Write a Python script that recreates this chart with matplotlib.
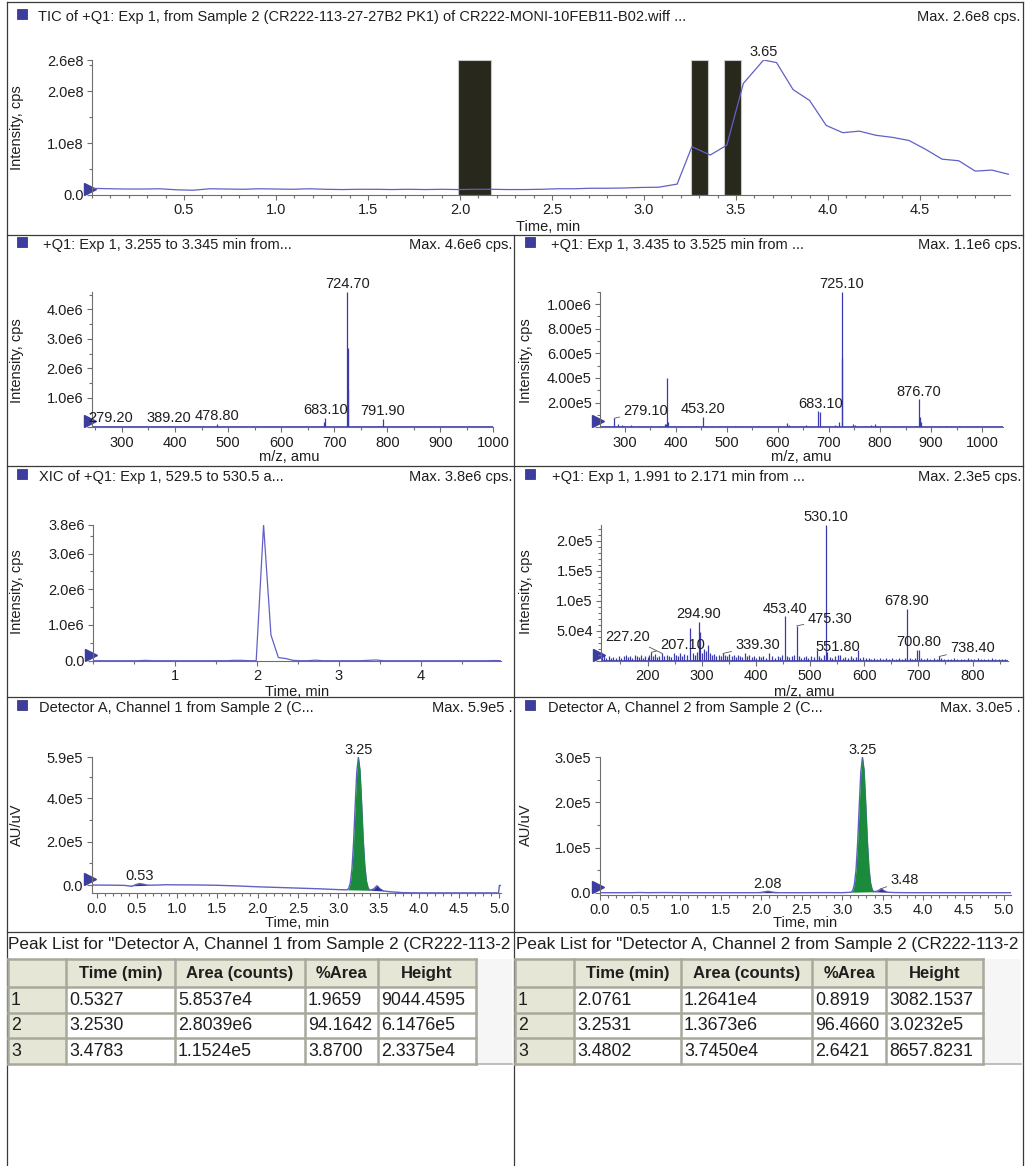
import numpy as np
import matplotlib
matplotlib.use("Agg")
import matplotlib.pyplot as plt
from matplotlib.patches import Rectangle
from matplotlib.ticker import FixedLocator, MultipleLocator, FuncFormatter

plt.rcParams['font.family'] = ['Liberation Sans', 'DejaVu Sans']
plt.rcParams['font.size'] = 10.5

# ---------------- data ----------------
# scan times shared by the TIC and the XIC (min)
scan_time = [0.00, 0.10, 0.19, 0.28, 0.37, 0.46, 0.55, 0.64, 0.73, 0.82, 0.91,
             1.00, 1.09, 1.18, 1.27, 1.36, 1.45, 1.54, 1.63, 1.72, 1.81, 1.90, 1.99,
             2.08, 2.17, 2.26, 2.35, 2.44, 2.53, 2.62, 2.71, 2.80, 2.89, 2.98, 3.08, 3.18,
             3.26, 3.36, 3.45, 3.54, 3.65, 3.72, 3.81, 3.90, 3.99, 4.08, 4.17, 4.26,
             4.35, 4.44, 4.53, 4.62, 4.71, 4.80, 4.89, 4.98]
# TIC intensity, 1e7 cps
tic_e7 = [1.28, 1.20, 1.15, 1.15, 1.20, 1.00, 0.92, 1.20, 1.15, 1.10, 1.20,
          1.15, 1.10, 1.20, 1.10, 1.05, 1.10, 1.10, 1.05, 1.10, 1.05, 1.10, 1.05,
          1.10, 1.10, 1.05, 1.05, 1.10, 1.20, 1.20, 1.30, 1.30, 1.35, 1.45, 1.50, 2.10,
          9.30, 7.70, 9.60, 21.5, 26.0, 25.5, 20.3, 18.2, 13.4, 12.0, 12.3, 11.5,
          11.1, 10.5, 8.8, 6.9, 6.6, 4.6, 4.8, 4.0]
tic_peak = 3.65
# XIC 529.5-530.5, 1e6 cps
xic_e6 = [0.0, 0.0, 0.0, 0.0, 0.0, 0.0, 0.0, 0.01, 0.0, 0.0, 0.0,
          0.0, 0.0, 0.0, 0.0, 0.0, 0.0, 0.0, 0.0, 0.01, 0.01, 0.0, 0.0,
          3.8, 0.72, 0.09, 0.06, 0.01, 0.0, 0.0, 0.015, 0.0, 0.0, 0.0, 0.0, 0.0,
          0.0, 0.01, 0.02, 0.0, 0.0, 0.0, 0.0, 0.0, 0.0, 0.0, 0.0, 0.0,
          0.0, 0.0, 0.0, 0.0, 0.0, 0.0, 0.005, 0.0]
# summed scan ranges (min) shown as dark bands on the TIC
scan_ranges = [(1.991, 2.171), (3.255, 3.345), (3.435, 3.525)]

# spectrum 3.255-3.345 min: labelled peaks and minor ions (m/z, 1e3 cps)
ms1_peaks = [(279.2, 50), (389.2, 40), (478.8, 110), (680.2, 190), (683.1, 330),
             (724.7, 4600), (725.5, 2680), (726.3, 1250), (789.5, 60), (791.9, 280)]
ms1_minor = [(262, 15), (290, 20), (298, 25), (318, 12), (345, 15), (372, 12), (410, 14),
             (436, 12), (452.8, 60), (466, 15), (499, 12), (520, 14), (548, 10), (575, 12),
             (610, 14), (640, 12), (663, 20), (676, 50), (700, 15), (712, 18), (736, 20),
             (747.5, 60), (760, 15), (783.5, 45), (806, 15), (835, 12), (860, 12), (890, 10),
             (920, 12), (950, 10), (975, 10)]
ms1_labels = [279.2, 389.2, 478.8, 683.1, 724.7, 791.9]

# spectrum 3.435-3.525 min
ms2_peaks = [(279.1, 73), (381.5, 30), (383.0, 400), (385.0, 40), (453.2, 86), (678.7, 130),
             (683.1, 127), (720.5, 46), (725.1, 1100), (725.9, 560), (876.7, 227),
             (878.2, 86), (880.0, 40)]
ms2_minor = [(263, 10), (270, 12), (287, 25), (294, 20), (300, 8), (312, 15), (325, 8),
             (340, 10), (352, 8), (368, 10), (378, 30), (397, 10), (410, 8), (425, 8),
             (440, 10), (460, 12), (470, 10), (486, 12), (500, 8), (515, 10), (530, 8),
             (548, 10), (560, 8), (575, 8), (590, 10), (603, 8), (618, 32), (622, 20),
             (632, 12), (650, 14), (655, 18), (665, 10), (700, 12), (712, 18), (748, 25),
             (752, 15), (770, 8), (783, 20), (791, 27), (795, 10), (810, 10), (830, 8),
             (850, 10), (870, 12), (900, 10), (915, 8), (930, 10), (940, 14), (955, 8),
             (970, 10), (990, 8), (1010, 6), (1030, 6)]
ms2_labels = [279.1, 453.2, 683.1, 725.1, 876.7]

# spectrum 1.991-2.171 min
ms3_peaks = [(207.1, 14), (227.2, 12), (278.9, 55), (294.9, 65), (296.5, 48), (311.0, 26),
             (339.3, 12), (425.0, 12), (453.4, 74), (475.3, 58), (512.5, 18), (530.1, 226),
             (532.0, 15), (551.8, 10), (588.3, 17), (678.9, 86), (697.5, 17), (700.8, 18),
             (738.4, 7)]
ms3_minor = [(116, 12), (120, 9), (124, 5), (129, 7), (133, 4), (137, 6), (142, 5), (147, 8),
             (151, 4), (156, 7), (160, 10), (164, 6), (168, 8), (172, 5), (176, 9), (180, 7),
             (184, 6), (188, 10), (192, 5), (196, 8), (200, 6), (203, 9), (210, 7), (214, 11),
             (218, 6), (222, 8), (231, 7), (235, 10), (240, 8), (244, 6), (248, 12), (252, 9),
             (256, 7), (260, 13), (264, 8), (268, 11), (272, 9), (283, 12), (287, 10), (291, 14),
             (300, 12), (304, 20), (308, 16), (315, 12), (319, 9), (323, 11), (327, 8), (331, 10),
             (335, 7), (343, 9), (347, 8), (351, 11), (355, 7), (359, 9), (363, 6), (367, 10),
             (371, 8), (375, 6), (380, 12), (384, 7), (388, 9), (392, 6), (396, 8), (400, 5),
             (405, 7), (409, 6), (413, 8), (418, 5), (430, 7), (435, 5), (440, 8), (445, 6),
             (449, 9), (458, 7), (462, 6), (467, 8), (471, 9), (480, 7), (484, 5), (488, 6),
             (493, 7), (497, 5), (502, 8), (507, 6), (517, 7), (521, 5), (526, 9), (536, 6),
             (541, 5), (546, 7), (556, 9), (560, 5), (565, 6), (570, 4), (575, 7), (580, 5),
             (584, 6), (593, 4), (598, 6), (603, 4), (608, 5), (613, 3), (618, 5), (624, 3),
             (629, 4), (635, 3), (641, 5), (646, 3), (652, 4), (658, 3), (664, 4), (670, 3),
             (675, 5), (684, 4), (689, 3), (694, 5), (705, 4), (710, 3), (716, 4), (722, 3),
             (728, 4), (734, 3), (742, 4), (748, 3), (754, 2), (760, 3), (766, 4), (772, 3),
             (779, 2), (785, 3), (791, 4), (797, 2), (803, 3), (810, 4), (816, 3), (822, 2),
             (829, 3), (835, 4), (841, 3), (848, 2), (854, 3), (860, 2)]
ms3_labels = [207.1, 227.2, 294.9, 339.3, 453.4, 475.3, 530.1, 551.8, 678.9, 700.8, 738.4]

# detector A traces (min, 1e3 AU/uV)
ch1_time = [-0.06, 0.00, 0.20, 0.35, 0.40, 0.44, 0.48, 0.53, 0.58, 0.62, 0.66, 0.75, 0.85,
            1.00, 1.25, 1.50, 1.75, 2.00, 2.25, 2.50, 2.75, 3.00,
            3.11, 3.13, 3.15, 3.17, 3.19, 3.21, 3.23, 3.25, 3.27, 3.29, 3.31, 3.33, 3.35, 3.37, 3.39,
            3.44, 3.48, 3.52, 3.56, 3.65, 3.80, 4.00, 4.50, 4.99, 5.00, 5.02]
ch1_e3 = [0.0, 0.0, -0.5, -1.5, -4.0, -5.0, 1.0, 7.0, 4.0, 0.5, -0.5, 0.0, 1.5,
          1.0, 0.5, -1.0, -4.0, -8.0, -11.0, -14.0, -17.0, -21.0,
          -22.0, -15.0, 11.0, 75.0, 196.0, 366.0, 524.0, 590.0, 530.0, 380.0, 210.0, 88.0, 18.0, -12.0, -24.0,
          -18.0, -3.0, -18.0, -27.0, -31.0, -35.0, -36.0, -36.0, -36.0, -2.0, -2.0]
ch1_windows = [(0.40, 0.66, 'blue'), (3.11, 3.39, 'green'), (3.39, 3.56, 'blue')]
ch1_labels = [0.53, 3.25]

ch2_time = [0.00, 0.40, 0.50, 0.60, 0.80, 1.00, 1.50, 1.95, 2.00, 2.04, 2.08, 2.12, 2.16,
            2.22, 2.50, 2.80, 3.00,
            3.11, 3.13, 3.15, 3.17, 3.19, 3.21, 3.23, 3.25, 3.27, 3.29, 3.31, 3.33, 3.35, 3.37, 3.39,
            3.44, 3.48, 3.52, 3.56, 3.65, 3.80, 5.08]
ch2_e3 = [0.0, 0.0, 0.4, 0.0, 0.3, 0.0, 0.0, 0.0, 0.6, 2.0, 3.1, 2.0, 0.6,
          0.0, 0.0, 0.2, 0.0,
          1.0, 5.0, 18.0, 49.0, 108.0, 190.0, 268.0, 300.0, 272.0, 200.0, 118.0, 56.0, 22.0, 7.0, 2.0,
          4.0, 8.7, 4.0, 1.0, 0.3, 0.0, 0.0]
ch2_windows = [(1.95, 2.22, 'blue'), (3.11, 3.39, 'green'), (3.39, 3.56, 'blue')]
ch2_labels = [2.08, 3.25, 3.48]

table_cols = ['', 'Time (min)', 'Area (counts)', '%Area', 'Height']
ch1_table = [['1', '0.5327', '5.8537e4', '1.9659', '9044.4595'],
             ['2', '3.2530', '2.8039e6', '94.1642', '6.1476e5'],
             ['3', '3.4783', '1.1524e5', '3.8700', '2.3375e4']]
ch2_table = [['1', '2.0761', '1.2641e4', '0.8919', '3082.1537'],
             ['2', '3.2531', '1.3673e6', '96.4660', '3.0232e5'],
             ['3', '3.4802', '3.7450e4', '2.6421', '8657.8231']]
ch1_title = 'Peak List for "Detector A, Channel 1 from Sample 2 (CR222-113-2'
ch2_title = 'Peak List for "Detector A, Channel 2 from Sample 2 (CR222-113-2'

# ---------------- styling ----------------
LINE = '#6060c6'
STICK = '#3a3aae'
MARK = '#3d3d9e'
FILLS = {'blue': '#30308e', 'green': '#1c8a3c'}
AXC = '#6e6e6e'
FRAME = '#3a3a3a'
TXT = '#1e1e1e'

W, H = 1026, 1166
fig = plt.figure(figsize=(W / 100, H / 100), dpi=100)
fig.patch.set_facecolor('white')
canvas = fig.add_axes([0, 0, 1, 1])
canvas.set_xlim(0, W)
canvas.set_ylim(H, 0)
canvas.axis('off')


def add_ax(x0, y0, x1, y1):
    return fig.add_axes([x0 / W, 1 - y1 / H, (x1 - x0) / W, (y1 - y0) / H])


def sci_fmt(dec, zero='0.0'):
    def f(v, pos):
        if abs(v) < 1e-12:
            return zero
        e = int(np.floor(np.log10(abs(v)) + 1e-9))
        return f"{v / 10 ** e:.{dec}f}e{e}"
    return FuncFormatter(f)


def style(ax, xlim, ylim, xmaj, xmin, ymaj, ymin, xfmt, yfmt):
    ax.set_xlim(*xlim)
    ax.set_ylim(*ylim)
    ax.set_facecolor('none')
    for s in ('top', 'right'):
        ax.spines[s].set_visible(False)
    for s in ('left', 'bottom'):
        ax.spines[s].set_color(AXC)
        ax.spines[s].set_linewidth(0.8)
    ax.xaxis.set_major_locator(FixedLocator(xmaj))
    ax.xaxis.set_minor_locator(MultipleLocator(xmin))
    ax.yaxis.set_major_locator(FixedLocator(ymaj))
    ax.yaxis.set_minor_locator(MultipleLocator(ymin))
    ax.xaxis.set_major_formatter(FuncFormatter(lambda v, p: xfmt.format(v)))
    ax.yaxis.set_major_formatter(yfmt)
    ax.tick_params(which='both', direction='out', color=AXC, width=0.8,
                   labelsize=10.5, labelcolor=TXT)
    ax.tick_params(which='major', length=3.5, pad=2.5)
    ax.tick_params(which='minor', length=2)


def start_marker(ax):
    # small triangle at the start of the trace, just left of the y axis
    x0 = ax.get_xlim()[0]
    dx, dy = ax.transData.transform((x0, 0))
    canvas.plot(dx - 2, H - dy - 6, marker='>', ms=8.5, color=MARK, mec=MARK, clip_on=False)


def header(x_sq, x_txt, x_right, y, text, maxtxt):
    canvas.add_patch(Rectangle((x_sq - 5, y - 8), 10, 10, facecolor=MARK, edgecolor='#28286e', lw=0.5))
    canvas.text(x_txt, y, text, ha='left', va='center', fontsize=10.5, color=TXT)
    canvas.text(x_right, y, maxtxt, ha='right', va='center', fontsize=10.5, color=TXT)


def axis_labels(xl, xpos, yl, ypos):
    canvas.text(xpos[0], xpos[1], xl, ha='center', va='center', fontsize=10.5, color=TXT)
    canvas.text(ypos[0], ypos[1], yl, ha='center', va='center', rotation=90, fontsize=10.5, color=TXT)


def peak_label(ax, text, x, y, offset=None):
    if offset is None:
        ax.annotate(text, (x, y), xytext=(0, 0.5), textcoords='offset points',
                    ha='center', va='bottom', fontsize=10.5, color=TXT)
    else:
        ax.annotate(text, (x, y), xytext=offset, textcoords='offset points',
                    ha='center', va='center', fontsize=10.5, color=TXT,
                    arrowprops=dict(arrowstyle='-', color='#555555', lw=0.6,
                                    shrinkA=1, shrinkB=0))


def spectrum(ax, peaks, minor, labels, leaders, scale=1e3):
    mz = [p[0] for p in peaks] + [p[0] for p in minor]
    it = [p[1] * scale for p in peaks] + [p[1] * scale for p in minor]
    ax.vlines(mz, 0, it, color=STICK, lw=0.9)
    ax.axhline(0, color=STICK, lw=1.2)
    look = dict(peaks)
    for m in labels:
        peak_label(ax, f"{m:.2f}", m, look[m] * scale, leaders.get(m))


def detector(ax, t, v, windows, labels, leaders):
    t = np.asarray(t)
    v = np.asarray(v) * 1e3
    ax.plot(t, v, color=LINE, lw=1.0, zorder=2)
    for a, b, c in windows:
        sel = (t >= a - 1e-9) & (t <= b + 1e-9)
        ts, vs = t[sel], v[sel]
        base = np.interp(ts, [ts[0], ts[-1]], [vs[0], vs[-1]])
        ax.fill_between(ts, vs, base, color=FILLS[c], lw=0, zorder=3)
    for pk in labels:
        y = v[np.argmin(np.abs(t - pk))]
        peak_label(ax, f"{pk:.2f}", pk, y, leaders.get(pk))


# ---------------- panel frames ----------------
for y in (2, 235, 466, 697, 932):
    canvas.plot([7, 1023], [y, y], color=FRAME, lw=0.9)
canvas.plot([7, 7], [2, H], color=FRAME, lw=0.9)
canvas.plot([1023, 1023], [2, H], color=FRAME, lw=0.9)
canvas.plot([514, 514], [235, H], color=FRAME, lw=0.9)

# ---------------- TIC ----------------
header(22, 38, 1020, 17,
       'TIC of +Q1: Exp 1, from Sample 2 (CR222-113-27-27B2 PK1) of CR222-MONI-10FEB11-B02.wiff ...',
       'Max. 2.6e8 cps.')
ax = add_ax(92, 60, 1010.2, 195)
style(ax, (0, 4.99), (0, 2.6e8), [0.5, 1.0, 1.5, 2.0, 2.5, 3.0, 3.5, 4.0, 4.5], 0.1,
      [0, 1e8, 2e8, 2.6e8], 0.5e8, '{:.1f}', sci_fmt(1))
tic = np.asarray(tic_e7) * 1e7
ax.plot(scan_time, tic, color=LINE, lw=0.9)
for a, b in scan_ranges:
    ax.axvspan(a, b, color='#28281c', ec='#c8c8c8', lw=0.8)
peak_label(ax, f"{tic_peak:.2f}", tic_peak, tic.max())
start_marker(ax)
axis_labels('Time, min', (548, 227), 'Intensity, cps', (17, 128))

# ---------------- spectra row ----------------
header(22, 43, 512, 245, '+Q1: Exp 1, 3.255 to 3.345 min from...', 'Max. 4.6e6 cps.')
ax = add_ax(91.7, 291.6, 493.3, 427.3)
style(ax, (243, 1000), (0, 4.6e6), list(range(300, 1001, 100)), 50,
      [0, 1e6, 2e6, 3e6, 4e6], 0.5e6, '{:.0f}', sci_fmt(1, ''))
spectrum(ax, ms1_peaks, ms1_minor, ms1_labels, {})
start_marker(ax)
axis_labels('m/z, amu', (289, 457), 'Intensity, cps', (17, 361))

header(530, 551, 1021, 245, '+Q1: Exp 1, 3.435 to 3.525 min from ...', 'Max. 1.1e6 cps.')
ax = add_ax(600.3, 291.7, 1003, 427.3)
style(ax, (252, 1041), (0, 1.1e6), list(range(300, 1001, 100)), 50,
      [0, 2e5, 4e5, 6e5, 8e5, 1e6], 1e5, '{:.0f}', sci_fmt(2, ''))
spectrum(ax, ms2_peaks, ms2_minor, ms2_labels, {279.1: (23, 5.5)})
start_marker(ax)
axis_labels('m/z, amu', (801, 457), 'Intensity, cps', (526, 361))

# ---------------- XIC and 1.991-2.171 spectrum ----------------
header(22, 39, 512, 477, 'XIC of +Q1: Exp 1, 529.5 to 530.5 a...', 'Max. 3.8e6 cps.')
ax = add_ax(93, 525, 501.4, 660.7)
style(ax, (0, 4.98), (0, 3.8e6), [1, 2, 3, 4], 0.5,
      [0, 1e6, 2e6, 3e6, 3.8e6], 0.5e6, '{:.0f}', sci_fmt(1))
ax.plot(scan_time, np.asarray(xic_e6) * 1e6, color=LINE, lw=0.9)
start_marker(ax)
axis_labels('Time, min', (297, 692), 'Intensity, cps', (17, 592))

header(530, 552, 1021, 477, '+Q1: Exp 1, 1.991 to 2.171 min from ...', 'Max. 2.3e5 cps.')
ax = add_ax(601.3, 525, 1008, 660.7)
style(ax, (114.6, 865.4), (0, 2.26e5), list(range(200, 801, 100)), 50,
      [0, 5e4, 1e5, 1.5e5, 2e5], 1e4, '{:.0f}', sci_fmt(1, ''))
spectrum(ax, ms3_peaks, ms3_minor, ms3_labels,
         {227.2: (-24.7, 12.1), 207.1: (22.6, 5.3), 339.3: (25.2, 6.1),
          475.3: (24.2, 5.0), 738.4: (24.3, 5.9)})
start_marker(ax)
axis_labels('m/z, amu', (804, 692), 'Intensity, cps', (526, 592))

# ---------------- detector A channels ----------------
header(22, 39, 513, 708, 'Detector A, Channel 1 from Sample 2 (C...', 'Max. 5.9e5 .')
ax = add_ax(91.7, 757.3, 501, 893.3)
style(ax, (-0.06, 5.02), (-0.38e5, 5.9e5), [i * 0.5 for i in range(11)], 0.1,
      [0, 2e5, 4e5, 5.9e5], 1e5, '{:.1f}', sci_fmt(1))
detector(ax, ch1_time, ch1_e3, ch1_windows, ch1_labels, {})
start_marker(ax)
axis_labels('Time, min', (297, 923), 'AU/uV', (17, 825))

header(530, 548, 1021, 708, 'Detector A, Channel 2 from Sample 2 (C...', 'Max. 3.0e5 .')
ax = add_ax(599.5, 757.3, 1010.5, 894.5)
style(ax, (0, 5.08), (-0.04e5, 3.0e5), [i * 0.5 for i in range(11)], 0.1,
      [0, 1e5, 2e5, 3e5], 0.5e5, '{:.1f}', sci_fmt(1))
detector(ax, ch2_time, ch2_e3, ch2_windows, ch2_labels, {3.48: (17.2, 6.3)})
start_marker(ax)
axis_labels('Time, min', (805, 923), 'AU/uV', (526, 825))

# ---------------- peak tables ----------------
ROWS = [959, 987, 1012.5, 1038, 1064]
GRID = '#a8a89c'
BEIGE = '#e6e6d6'


def peak_table(cols_x, rows, title, title_x, x_right):
    canvas.text(title_x, 945, title, ha='left', va='center', fontsize=12.3, color=TXT)
    x_end = cols_x[-1]
    canvas.add_patch(Rectangle((x_end, ROWS[0]), x_right - x_end, ROWS[-1] - ROWS[0],
                               facecolor='#f6f6f6', lw=0))
    canvas.plot([x_end, x_right], [ROWS[-1], ROWS[-1]], color='#b4b4b4', lw=1.2)
    canvas.add_patch(Rectangle((cols_x[0], ROWS[0]), x_end - cols_x[0], ROWS[1] - ROWS[0],
                               facecolor=BEIGE, lw=0))
    canvas.add_patch(Rectangle((cols_x[0], ROWS[1]), cols_x[1] - cols_x[0], ROWS[-1] - ROWS[1],
                               facecolor=BEIGE, lw=0))
    canvas.add_patch(Rectangle((cols_x[1], ROWS[1]), x_end - cols_x[1], ROWS[-1] - ROWS[1],
                               facecolor='white', lw=0))
    for y in ROWS:
        canvas.plot([cols_x[0], x_end], [y, y], color=GRID, lw=1.8, solid_capstyle='projecting')
    for x in cols_x:
        canvas.plot([x, x], [ROWS[0], ROWS[-1]], color=GRID, lw=1.8, solid_capstyle='projecting')
    for j, name in enumerate(table_cols):
        cx = (cols_x[j] + cols_x[j + 1]) / 2
        canvas.text(cx, (ROWS[0] + ROWS[1]) / 2 + 0.5, name, ha='center', va='center',
                    fontsize=12, fontweight='bold', color=TXT)
    for i, row in enumerate(rows):
        cy = (ROWS[i + 1] + ROWS[i + 2]) / 2 + 0.5
        for j, val in enumerate(row):
            canvas.text(cols_x[j] + 3, cy, val, ha='left', va='center', fontsize=12.8, color=TXT)


peak_table([8, 66, 175, 305, 378, 476], ch1_table, ch1_title, 8, 512)
peak_table([515, 574, 681, 812, 886, 983], ch2_table, ch2_title, 516, 1021)

fig.savefig('out.png', dpi=100, facecolor='white')
